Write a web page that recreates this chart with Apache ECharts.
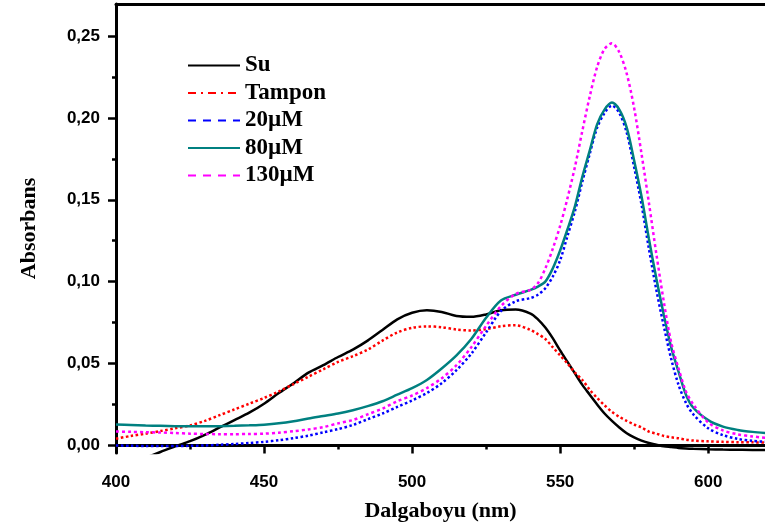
<!DOCTYPE html>
<html lang="tr">
<head>
    <meta charset="UTF-8">
    <title>Absorbans spektrumu</title>
    <script src="https://cdn.jsdelivr.net/npm/echarts@6/dist/echarts.min.js"></script>
    <style>
        html, body { margin: 0; padding: 0; background: #fff; }
        #render-target { width: 765px; height: 530px; }
    </style>
</head>
<body>
    <div id="render-target"></div>
    <script>
        // wavelength (nm)
        const wavelengths = [400,405,410,415,420,425,430,435,440,445,450,455,460,465,470,475,480,485,490,495,500,505,510,515,520,525,530,535,540,
            542.5,545,547.5,550,552.5,555,557.5,560,562.5,565,567.5,570,572.5,575,577.5,580,582.5,585,587.5,590,592.5,595,
            600,605,610,615,620]

        const su = [-0.014,-0.011,-0.0075,-0.004,-0.0005,0.0026,0.0065,0.011,0.0155,0.020,0.0255,0.032,0.038,0.0445,0.049,0.054,0.0585,0.064,0.0705,0.077,0.081,0.0825,0.0815,0.079,0.0785,0.080,0.0825,0.083,0.0805,
            0.077,0.072,0.0655,0.058,0.051,0.044,0.037,0.031,0.025,0.0195,0.015,0.011,0.0075,0.005,0.003,0.0015,0.0005,-0.0005,-0.001,-0.0015,-0.0018,-0.002,
            -0.0023,-0.0025,-0.0026,-0.0027,-0.0027]

        const tampon = [0.0041,0.0058,0.0072,0.0088,0.0105,0.0122,0.015,0.0185,0.022,0.0255,0.029,0.033,0.0375,0.042,0.0465,0.051,0.0545,0.0585,0.064,0.069,0.0718,0.0727,0.0722,0.0708,0.0702,0.071,0.0728,0.0734,0.0705,
            0.068,0.065,0.060,0.055,0.050,0.0445,0.040,0.034,0.029,0.0245,0.0205,0.0175,0.015,0.0128,0.011,0.0085,0.0072,0.0058,0.005,0.0044,0.0035,0.003,
            0.0025,0.0022,0.002,0.0019,0.0018]

        const c20 = [0.0,-0.0002,-0.0003,-0.0004,-0.0004,-0.0002,0.0,0.0004,0.0009,0.0015,0.0022,0.0032,0.0045,0.006,0.008,0.010,0.0125,0.016,0.0195,0.0235,0.0275,0.032,0.038,0.046,0.056,0.069,0.082,0.088,0.090,
            0.092,0.096,0.103,0.113,0.128,0.143,0.161,0.178,0.194,0.203,0.2075,0.203,0.191,0.170,0.147,0.120,0.095,0.073,0.053,0.037,0.026,0.019,
            0.0105,0.0063,0.004,0.0028,0.0022]

        const c80 = [0.0128,0.0125,0.0122,0.012,0.0118,0.0117,0.0117,0.0118,0.012,0.0123,0.0127,0.0135,0.0148,0.0165,0.018,0.0195,0.0215,0.024,0.027,0.031,0.035,0.040,0.047,0.055,0.065,0.078,0.0885,0.092,0.095,
            0.097,0.100,0.108,0.119,0.132,0.146,0.164,0.180,0.196,0.205,0.2093,0.205,0.194,0.174,0.152,0.126,0.102,0.080,0.060,0.045,0.031,0.023,
            0.0155,0.0115,0.0095,0.0083,0.0075]

        const c130 = [0.0085,0.0083,0.0081,0.0079,0.0076,0.0072,0.007,0.0069,0.0069,0.007,0.0072,0.0078,0.0087,0.0098,0.0112,0.0135,0.0155,0.019,0.0225,0.027,0.0305,0.035,0.041,0.049,0.060,0.073,0.085,0.0925,0.095,
            0.099,0.108,0.120,0.134,0.151,0.170,0.192,0.213,0.231,0.242,0.2455,0.240,0.227,0.206,0.178,0.148,0.117,0.088,0.063,0.047,0.033,0.025,
            0.014,0.0092,0.0068,0.0055,0.0045]

        const xTicks = [400, 450, 500, 550, 600]
        const xMinorTicks = [425, 475, 525, 575]
        const yTicks = [0, 0.05, 0.10, 0.15, 0.20, 0.25]
        const yMinorTicks = [0.025, 0.075, 0.125, 0.175, 0.225]

        const serif = "'Liberation Serif', 'Times New Roman', serif"
        const sans = "'Liberation Sans', Arial, sans-serif"
        const xMin = 400, xMax = 619.2
        const yMin = -0.0046, yMax = 0.2695

        const pairs = vals => wavelengths.map((w, i) => [w, vals[i]])

        function lineSeries(name, vals, color, type) {
            return {
                name,
                type: "line",
                data: pairs(vals),
                symbol: "none",
                smooth: 0.3,
                clip: true,
                lineStyle: { color, width: 2.5, type },
                itemStyle: { color },
            }
        }

        // legend icons: line only, no marker
        const noMarker = { color: "rgba(0,0,0,0)", borderColor: "rgba(0,0,0,0)", borderWidth: 0 }

        const chart = echarts.init(document.querySelector("#render-target"))
        chart.setOption({
            animation: false,
            backgroundColor: "#fff",
            grid: { left: 116, right: -3, top: 4, bottom: 77, containLabel: false },
            legend: {
                left: 182,
                top: 49,
                orient: "vertical",
                itemWidth: 52,
                itemHeight: 14,
                itemGap: 4.5,
                itemStyle: noMarker,
                textStyle: { fontFamily: serif, fontWeight: "bold", fontSize: 23, color: "#000" },
                data: [
                    { name: "Su", lineStyle: { type: "solid" } },
                    { name: "Tampon", lineStyle: { type: [8, 5, 2, 5] } },
                    { name: "20µM", lineStyle: { type: [8, 7] } },
                    { name: "80µM", lineStyle: { type: "solid" } },
                    { name: "130µM", lineStyle: { type: [8, 7] } },
                ],
            },
            xAxis: [
                {
                    type: "value", position: "bottom", min: xMin, max: xMax,
                    name: "Dalgaboyu (nm)", nameLocation: "middle", nameGap: 47,
                    nameTextStyle: { fontFamily: serif, fontWeight: "bold", fontSize: 22, color: "#000" },
                    axisLine: { lineStyle: { color: "#000", width: 3 } },
                    axisTick: { customValues: xTicks, length: 8, lineStyle: { color: "#000", width: 2.5 } },
                    axisLabel: { customValues: xTicks, margin: 21, fontFamily: sans, fontWeight: "bold", fontSize: 17, color: "#000" },
                    splitLine: { show: false },
                },
                {
                    type: "value", position: "bottom", min: xMin, max: xMax,
                    axisLine: { show: false },
                    axisTick: { customValues: xMinorTicks, length: 4, lineStyle: { color: "#000", width: 2.5 } },
                    axisLabel: { show: false },
                    splitLine: { show: false },
                },
                {
                    type: "value", position: "top", min: xMin, max: xMax,
                    axisLine: { lineStyle: { color: "#000", width: 3 } },
                    axisTick: { show: false },
                    axisLabel: { show: false },
                    splitLine: { show: false },
                },
            ],
            yAxis: [
                {
                    type: "value", position: "left", min: yMin, max: yMax,
                    name: "Absorbans", nameLocation: "middle", nameGap: 76,
                    nameTextStyle: { fontFamily: serif, fontWeight: "bold", fontSize: 22, color: "#000" },
                    axisLine: { lineStyle: { color: "#000", width: 3 } },
                    axisTick: { customValues: yTicks, length: 8, lineStyle: { color: "#000", width: 2.5 } },
                    axisLabel: {
                        customValues: yTicks, margin: 16,
                        fontFamily: sans, fontWeight: "bold", fontSize: 17, color: "#000",
                        formatter: v => v.toFixed(2).replace(".", ","),
                    },
                    splitLine: { show: false },
                },
                {
                    type: "value", position: "left", min: yMin, max: yMax,
                    axisLine: { show: false },
                    axisTick: { customValues: yMinorTicks, length: 4, lineStyle: { color: "#000", width: 2.5 } },
                    axisLabel: { show: false },
                    splitLine: { show: false },
                },
            ],
            series: [
                lineSeries("Su", su, "#000000", "solid"),
                lineSeries("Tampon", tampon, "#ff0000", [2.5, 2.5]),
                lineSeries("20µM", c20, "#0000ff", [2.5, 2.5]),
                lineSeries("80µM", c80, "#008080", "solid"),
                lineSeries("130µM", c130, "#ff00ff", [3, 3]),
            ],
        })
    </script>
</body>
</html>
